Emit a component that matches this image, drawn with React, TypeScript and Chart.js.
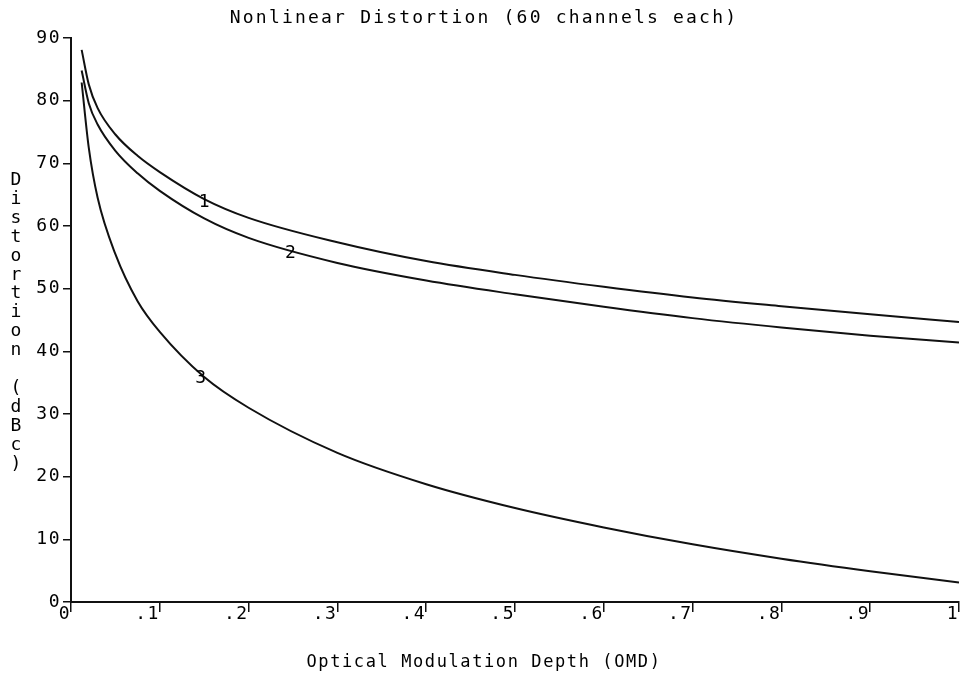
import React, { useEffect, useRef } from "react";
import { Chart, registerables } from "chart.js";

Chart.register(...registerables);

// OMD values (x) shared by the three curves
const omd = [0.012, 0.02, 0.03, 0.05, 0.075, 0.1, 0.15, 0.2, 0.3, 0.4, 0.5, 0.6, 0.7, 0.8, 0.9, 1.0];
// Distortion (dBc)
const curve1 = [88.1, 82.6, 78.8, 74.6, 71.2, 68.6, 64.3, 61.3, 57.4, 54.4, 52.2, 50.3, 48.6, 47.2, 45.9, 44.7];
const curve2 = [84.8, 79.6, 76.2, 72.0, 68.4, 65.6, 61.2, 58.1, 54.1, 51.3, 49.1, 47.1, 45.3, 43.8, 42.5, 41.4];
const curve3 = [82.9, 72.5, 64.5, 55.5, 48.0, 43.1, 35.9, 31.0, 23.8, 18.8, 15.0, 11.9, 9.2, 6.9, 4.9, 3.1];

// Curve number labels placed on the curves
const curveNames = ["1", "2", "3"];
const nameX = [0.15, 0.247, 0.146];
const nameY = [63.7, 55.7, 35.7];

const titleText = "Nonlinear Distortion (60 channels each)";
const xTitle = "Optical Modulation Depth (OMD)";
const yTitle = "Distortion (dBc)";

const FONT = '"DejaVu Sans Mono", monospace';
const INK = "#111";

export default function App() {
  const ref = useRef<HTMLCanvasElement | null>(null);

  useEffect(() => {
    const canvas = ref.current;
    if (!canvas) return;

    const textPlugin = {
      id: "plotterText",
      beforeDraw(chart: any) {
        try {
          chart.ctx.letterSpacing = "1.5px";
        } catch (e) {}
      },
      afterDraw(chart: any) {
        const ctx = chart.ctx as CanvasRenderingContext2D;
        const xs = chart.scales.x;
        const ys = chart.scales.y;
        ctx.save();
        ctx.fillStyle = "#000";
        // title
        ctx.font = `18px ${FONT}`;
        try { (ctx as any).letterSpacing = "2.2px"; } catch (e) {}
        ctx.textAlign = "center";
        ctx.textBaseline = "middle";
        ctx.fillText(titleText, 484, 18);
        // x title
        ctx.font = `17px ${FONT}`;
        try { (ctx as any).letterSpacing = "1.6px"; } catch (e) {}
        ctx.fillText(xTitle, 484, 663);
        // y title, stacked letters
        ctx.font = `18px ${FONT}`;
        try { (ctx as any).letterSpacing = "0px"; } catch (e) {}
        ctx.textBaseline = "alphabetic";
        const chars = Array.from(yTitle);
        chars.forEach((c, i) => {
          if (c !== " ") ctx.fillText(c, 16, 185 + i * 18.9);
        });
        // curve numbers
        ctx.textBaseline = "middle";
        ctx.font = `18px ${FONT}`;
        curveNames.forEach((n, i) => {
          ctx.fillText(n, xs.getPixelForValue(nameX[i]), ys.getPixelForValue(nameY[i]));
        });
        ctx.restore();
      },
    };

    const mk = (vals: number[]) => omd.map((x, i) => ({ x, y: vals[i] }));
    const lineStyle = {
      showLine: true,
      borderColor: INK,
      borderWidth: 2,
      pointRadius: 0,
      pointHoverRadius: 0,
      fill: false,
      cubicInterpolationMode: "monotone" as const,
    };

    const chart = new Chart(canvas, {
      type: "scatter",
      data: {
        datasets: [
          { label: "1", data: mk(curve1), ...lineStyle },
          { label: "2", data: mk(curve2), ...lineStyle },
          { label: "3", data: mk(curve3), ...lineStyle },
        ],
      },
      options: {
        responsive: false,
        animation: false,
        events: [],
        layout: { padding: { top: 38, right: 3, left: 0, bottom: 0 } },
        plugins: {
          legend: { display: false },
          title: { display: false },
          tooltip: { enabled: false },
        },
        scales: {
          x: {
            type: "linear",
            min: 0,
            max: 1,
            afterFit(scale: any) {
              scale.height = 75;
              scale.paddingLeft = 0;
              scale.paddingRight = 0;
            },
            ticks: {
              stepSize: 0.1,
              align: "end",
              padding: -8,
              color: "#000",
              font: { family: FONT, size: 18 },
              maxRotation: 0,
              autoSkip: false,
              callback: (v: any) => {
                const n = Math.round(Number(v) * 10);
                if (n === 0) return "0";
                if (n === 10) return "1";
                return "." + n;
              },
            },
            grid: {
              display: true,
              drawOnChartArea: false,
              drawTicks: true,
              tickLength: 10,
              color: INK,
              lineWidth: 1.5,
            },
            border: { display: true, color: INK, width: 2 },
          },
          y: {
            type: "linear",
            min: 0,
            max: 90,
            afterFit(scale: any) {
              scale.width = 71;
            },
            ticks: {
              stepSize: 10,
              padding: 2,
              color: "#000",
              font: { family: FONT, size: 18 },
            },
            grid: {
              display: true,
              drawOnChartArea: false,
              drawTicks: true,
              tickLength: 8,
              color: INK,
              lineWidth: 1.5,
            },
            border: { display: true, color: INK, width: 2 },
          },
        },
      },
      plugins: [textPlugin],
    } as any);

    return () => chart.destroy();
  }, []);

  return (
    <div style={{ position: "fixed", left: 0, top: 0, width: 962, height: 677, background: "#fff" }}>
      <canvas ref={ref} width={962} height={677} style={{ display: "block" }} />
    </div>
  );
}
